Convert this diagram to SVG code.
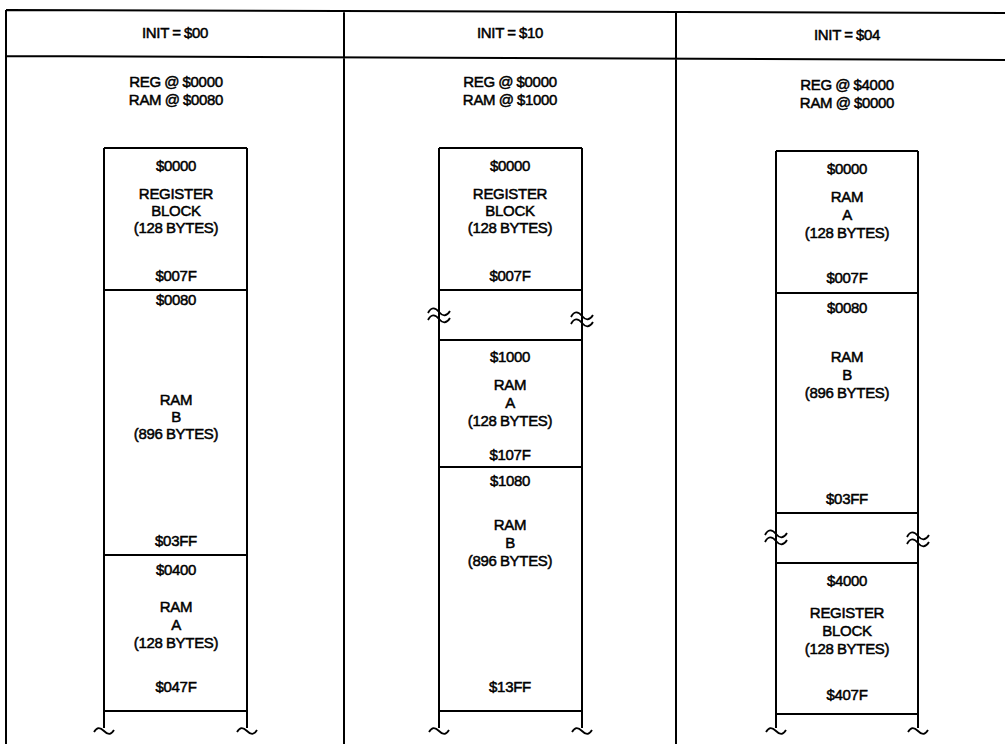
<svg xmlns="http://www.w3.org/2000/svg" width="1005" height="744" viewBox="0 0 1005 744">
<style>
.t{font-family:"Liberation Sans",Arial,sans-serif;font-size:15px;fill:#000;stroke:#000;stroke-width:0.5;text-anchor:middle;letter-spacing:-0.3px;word-spacing:-0.5px}
.ln{stroke:#000;stroke-width:2;fill:none}
.sq{stroke:#000;stroke-width:1.8;fill:none}
</style>
<rect width="1005" height="744" fill="#fff"/>
<g id="table">
<path class="ln" d="M6,10 L1005,13 M6,56 L1005,60 M6,10 V744 M344,10 V744 M676,12 V744"/>
</g>
<g id="hdr1"><text class="t" x="175" y="38">INIT = $00</text><text class="t" x="176" y="87">REG @ $0000</text><text class="t" x="176" y="105">RAM @ $0080</text></g>
<g id="hdr2"><text class="t" x="510" y="38">INIT = $10</text><text class="t" x="510" y="87">REG @ $0000</text><text class="t" x="510" y="105">RAM @ $1000</text></g>
<g id="hdr3"><text class="t" x="847" y="40">INIT = $04</text><text class="t" x="847" y="90">REG @ $4000</text><text class="t" x="847" y="108">RAM @ $0000</text></g>

<g id="col1">
<path class="ln" d="M104,148 H247 M104,148 V728 M247,148 V728 M104,290 H247 M104,555 H247 M104,711 H247"/>
<g id="c1-reg"><text class="t" x="176" y="171">$0000</text><text class="t" x="176" y="199">REGISTER</text><text class="t" x="176" y="216">BLOCK</text><text class="t" x="176" y="233">(128 BYTES)</text><text class="t" x="176" y="281">$007F</text></g>
<g id="c1-ramb"><text class="t" x="176" y="305">$0080</text><text class="t" x="176" y="405">RAM</text><text class="t" x="176" y="422">B</text><text class="t" x="176" y="439">(896 BYTES)</text><text class="t" x="176" y="546">$03FF</text></g>
<g id="c1-rama"><text class="t" x="176" y="575">$0400</text><text class="t" x="176" y="612">RAM</text><text class="t" x="176" y="630">A</text><text class="t" x="176" y="648">(128 BYTES)</text><text class="t" x="176" y="692">$047F</text></g>
</g>

<g id="col2">
<path class="ln" d="M439,148 H582 M439,148 V728 M582,148 V728 M439,290 H582 M439,340 H582 M439,467 H582 M439,711 H582"/>
<g id="c2-reg"><text class="t" x="510" y="171">$0000</text><text class="t" x="510" y="199">REGISTER</text><text class="t" x="510" y="216">BLOCK</text><text class="t" x="510" y="233">(128 BYTES)</text><text class="t" x="510" y="281">$007F</text></g>
<g id="c2-rama"><text class="t" x="510" y="362">$1000</text><text class="t" x="510" y="390">RAM</text><text class="t" x="510" y="408">A</text><text class="t" x="510" y="426">(128 BYTES)</text><text class="t" x="510" y="460">$107F</text></g>
<g id="c2-ramb"><text class="t" x="510" y="486">$1080</text><text class="t" x="510" y="530">RAM</text><text class="t" x="510" y="548">B</text><text class="t" x="510" y="566">(896 BYTES)</text><text class="t" x="510" y="692">$13FF</text></g>
</g>

<g id="col3">
<path class="ln" d="M776,151 H918 M776,151 V728 M918,151 V728 M776,293 H918 M776,513 H918 M776,563 H918 M776,714 H918"/>
<g id="c3-rama"><text class="t" x="847" y="174">$0000</text><text class="t" x="847" y="202">RAM</text><text class="t" x="847" y="220">A</text><text class="t" x="847" y="238">(128 BYTES)</text><text class="t" x="847" y="283">$007F</text></g>
<g id="c3-ramb"><text class="t" x="847" y="313">$0080</text><text class="t" x="847" y="362">RAM</text><text class="t" x="847" y="380">B</text><text class="t" x="847" y="398">(896 BYTES)</text><text class="t" x="847" y="504">$03FF</text></g>
<g id="c3-reg"><text class="t" x="847" y="586">$4000</text><text class="t" x="847" y="618">REGISTER</text><text class="t" x="847" y="636">BLOCK</text><text class="t" x="847" y="654">(128 BYTES)</text><text class="t" x="847" y="700">$407F</text></g>
</g>

<g id="connectors">
<defs>
<path id="brk" class="sq" d="M-11,-2 c3,-6 7,-6 11,-1 s8,4 11,-1 M-11,5 c3,-6 7,-6 11,-1 s8,4 11,-1"/>
<path id="tl" class="sq" d="M-10,3 c3,-5 6,-5 10,-1 s7,4 10,-1"/>
</defs>
<use href="#brk" x="439" y="315"/><use href="#brk" x="582" y="319"/>
<use href="#brk" x="776" y="537"/><use href="#brk" x="918" y="539"/>
<use href="#tl" x="104" y="729"/><use href="#tl" x="247" y="729"/>
<use href="#tl" x="439" y="729"/><use href="#tl" x="582" y="729"/>
<use href="#tl" x="776" y="729"/><use href="#tl" x="918" y="729"/>
</g>
</svg>
